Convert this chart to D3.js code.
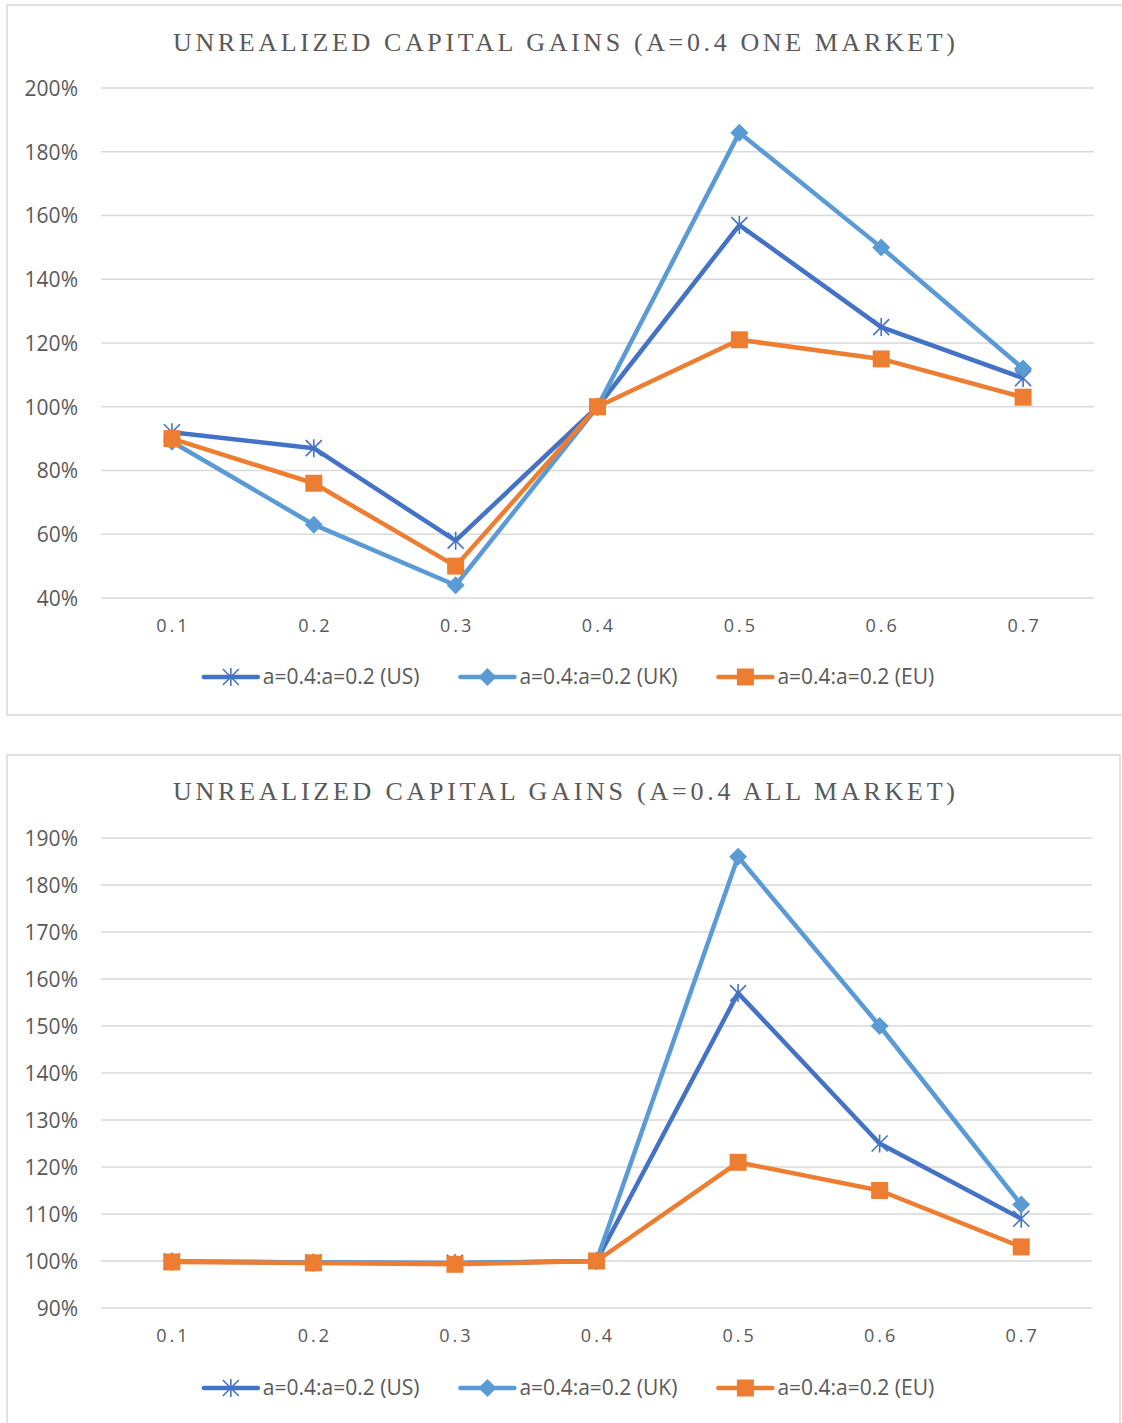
<!DOCTYPE html>
<html>
<head>
<meta charset="utf-8">
<script src="https://cdn.jsdelivr.net/npm/d3@7"></script>
<style>
  body { margin: 0; background: #fff; }
  svg { display: block; }
</style>
</head>
<body>
<div id="here"></div>
<script>
var categories = ['0.1', '0.2', '0.3', '0.4', '0.5', '0.6', '0.7'];
var seriesNames = ['a=0.4:a=0.2 (US)', 'a=0.4:a=0.2 (UK)', 'a=0.4:a=0.2 (EU)'];

// chart 1: one market
var oneUS = [92, 87, 58, 100, 157, 125, 109];
var oneUK = [89, 63, 44, 100, 186, 150, 112];
var oneEU = [90, 76, 50, 100, 121, 115, 103];
var oneTicks = [40, 60, 80, 100, 120, 140, 160, 180, 200];

// chart 2: all market
var allUS = [99.9, 99.7, 99.6, 100, 157, 125, 109];
var allUK = [99.9, 99.7, 99.5, 100, 186, 150, 112];
var allEU = [99.8, 99.6, 99.3, 100, 121, 115, 103];
var allTicks = [90, 100, 110, 120, 130, 140, 150, 160, 170, 180, 190];

var colors = ['#4472C4', '#5B9BD5', '#ED7D31'];
var markers = ['star', 'diamond', 'square'];

var W = 1122, H = 1423;
var svg = d3.select('#here').append('svg')
  .attr('width', W)
  .attr('height', H);

function marker(g, type, x, y, color) {
  if (type === 'square') {
    g.append('rect')
      .attr('x', x - 8.5).attr('y', y - 8.5)
      .attr('width', 17).attr('height', 17)
      .attr('fill', color);
  } else if (type === 'diamond') {
    var d = 9;
    g.append('path')
      .attr('d', 'M' + x + ',' + (y - d) + 'L' + (x + d) + ',' + y + 'L' + x + ',' + (y + d) + 'L' + (x - d) + ',' + y + 'Z')
      .attr('fill', color);
  } else {
    var r = 8;
    g.append('path')
      .attr('d', 'M' + x + ',' + (y - r - 1) + 'L' + x + ',' + (y + r + 1) +
        'M' + (x - r) + ',' + (y - r) + 'L' + (x + r) + ',' + (y + r) +
        'M' + (x - r) + ',' + (y + r) + 'L' + (x + r) + ',' + (y - r))
      .attr('stroke', color)
      .attr('stroke-width', 1.6)
      .attr('fill', 'none');
  }
}

function drawChart(opt) {
  var g = svg.append('g');

  g.append('rect')
    .attr('x', opt.box[0]).attr('y', opt.box[1])
    .attr('width', opt.box[2]).attr('height', opt.box[3])
    .attr('fill', '#fff')
    .attr('stroke', '#d9d9d9')
    .attr('stroke-width', 1.5);

  g.append('text')
    .attr('x', 173).attr('y', opt.titleY)
    .attr('textLength', 782)
    .attr('lengthAdjust', 'spacing')
    .style('font-family', '"Liberation Serif", "Times New Roman", serif')
    .style('font-size', '26px')
    .attr('fill', '#595959')
    .text(opt.title);

  var x = d3.scaleBand().domain(categories).range([101, opt.right]);
  var y = d3.scaleLinear().domain(opt.domain).range([opt.bottom, opt.top]);

  // gridlines
  g.append('g').selectAll('line')
    .data(opt.ticks)
    .enter().append('line')
    .attr('x1', 101).attr('x2', opt.right)
    .attr('y1', function(d) { return y(d); })
    .attr('y2', function(d) { return y(d); })
    .attr('stroke', '#d9d9d9')
    .attr('stroke-width', 1.5);

  // y axis labels
  var yAxis = d3.axisLeft(y).tickValues(opt.ticks)
    .tickFormat(function(d) { return d + '%'; })
    .tickSize(0).tickPadding(0);
  var ya = g.append('g').attr('transform', 'translate(78,0)').call(yAxis);
  ya.select('.domain').remove();
  ya.selectAll('text')
    .attr('fill', '#595959')
    .attr('dy', '0.35em')
    .style('font-family', '"Open Sans", sans-serif')
    .style('font-size', '21px');

  // x axis labels
  var xAxis = d3.axisBottom(x).tickSize(0).tickPadding(0);
  var xa = g.append('g').attr('transform', 'translate(0,' + opt.xLabelY + ')').call(xAxis);
  xa.select('.domain').remove();
  xa.selectAll('text')
    .attr('fill', '#595959')
    .attr('dy', '0.35em')
    .attr('dx', '1.5px')
    .style('font-family', '"Open Sans", sans-serif')
    .style('font-size', '18px')
    .style('letter-spacing', '3px');

  var line = d3.line()
    .x(function(d, i) { return x(categories[i]) + x.bandwidth() / 2; })
    .y(function(d) { return y(d); });

  opt.series.forEach(function(s, k) {
    g.append('path')
      .datum(s)
      .attr('d', line)
      .attr('fill', 'none')
      .attr('stroke', colors[k])
      .attr('stroke-width', 4.5)
      .attr('stroke-linejoin', 'round');
    var mg = g.append('g');
    s.forEach(function(v, i) {
      marker(mg, markers[k], x(categories[i]) + x.bandwidth() / 2, y(v), colors[k]);
    });
  });

  // legend
  var lg = g.append('g');
  var items = seriesNames.map(function(name, k) {
    var it = lg.append('g');
    it.append('line')
      .attr('x1', 0).attr('x2', 54)
      .attr('y1', 0).attr('y2', 0)
      .attr('stroke', colors[k])
      .attr('stroke-width', 4.5)
      .attr('stroke-linecap', 'round');
    marker(it, markers[k], 27, 0, colors[k]);
    var t = it.append('text')
      .attr('x', 59).attr('dy', '0.35em')
      .attr('fill', '#595959')
      .style('font-family', '"Open Sans", sans-serif')
      .style('font-size', '21px')
      .text(name);
    return { g: it, w: 59 + t.node().getComputedTextLength() };
  });
  var gap = 41;
  var total = d3.sum(items, function(d) { return d.w; }) + gap * (items.length - 1);
  var cx = 569 - total / 2;
  items.forEach(function(d) {
    d.g.attr('transform', 'translate(' + cx + ',' + opt.legendY + ')');
    cx += d.w + gap;
  });
}

drawChart({
  box: [7, 5, 1120, 710],
  title: 'UNREALIZED CAPITAL GAINS (A=0.4 ONE MARKET)',
  titleY: 51,
  domain: [40, 200],
  ticks: oneTicks,
  top: 88, bottom: 598, right: 1094,
  xLabelY: 626,
  legendY: 677,
  series: [oneUS, oneUK, oneEU]
});

drawChart({
  box: [7, 755, 1113, 680],
  title: 'UNREALIZED CAPITAL GAINS (A=0.4 ALL MARKET)',
  titleY: 800,
  domain: [90, 190],
  ticks: allTicks,
  top: 838, bottom: 1308, right: 1092,
  xLabelY: 1336,
  legendY: 1388,
  series: [allUS, allUK, allEU]
});
</script>
</body>
</html>
